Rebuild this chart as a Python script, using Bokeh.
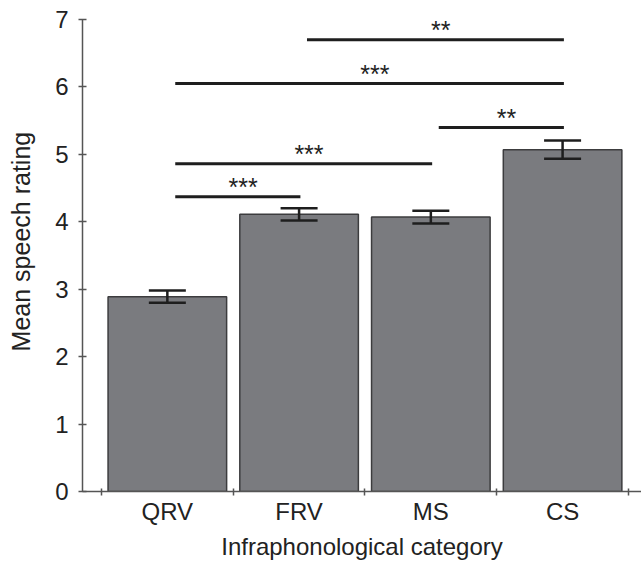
from bokeh.plotting import figure
from bokeh.models import FixedTicker, Range1d, ColumnDataSource, Whisker
from bokeh.core.properties import value
from bokeh.embed import file_html
from bokeh.resources import INLINE

# ---- data ----
categories = ["QRV", "FRV", "MS", "CS"]
means = [2.89, 4.11, 4.07, 5.07]
sem = [0.09, 0.09, 0.095, 0.135]

cmp_from = ["FRV", "QRV", "MS", "QRV", "QRV"]
cmp_to = ["CS", "CS", "CS", "MS", "FRV"]
cmp_level = [6.70, 6.05, 5.40, 4.86, 4.37]
cmp_label = ["**", "***", "**", "***", "***"]

y_ticks = [0, 1, 2, 3, 4, 5, 6, 7]

FONT = "Liberation Sans"
TXT = "#222222"

X0, X1 = -0.644, 3.599
xs = list(range(len(categories)))

p = figure(width=641, height=562, output_backend="svg", toolbar_location=None,
           x_range=Range1d(X0, X1), y_range=Range1d(0, 7),
           min_border_left=82, min_border_right=0, min_border_top=19,
           min_border_bottom=68)
p.outline_line_color = None
p.xgrid.visible = False
p.ygrid.visible = False
p.background_fill_color = "white"
p.border_fill_color = "white"

# bars
src = ColumnDataSource(dict(x=xs, top=means,
                            upper=[m + s for m, s in zip(means, sem)],
                            lower=[m - s for m, s in zip(means, sem)]))
p.vbar(x="x", top="top", bottom=0, width=0.9, source=src,
       fill_color="#7a7b7f", line_color="#3c3c3e", line_width=1.5)

# error bars
w = Whisker(base="x", upper="upper", lower="lower", source=src,
            line_color="#1e1e1e", line_width=2.5, level="overlay")
for h in (w.upper_head, w.lower_head):
    h.size = 37
    h.line_width = 2.5
    h.line_color = "#1e1e1e"
p.add_layout(w)

# significance brackets
idx = {c: i for i, c in enumerate(categories)}
x0 = [idx[a] + 0.06 for a in cmp_from]
x1 = [idx[b] + 0.01 for b in cmp_to]
p.segment(x0=x0, y0=cmp_level, x1=x1, y1=cmp_level,
          line_color="#1e1e1e", line_width=3)
p.text(x=[(a + b) / 2 + 0.04 for a, b in zip(x0, x1)],
       y=[lv + 0.14 for lv in cmp_level], text=cmp_label,
       text_font=value(FONT), text_font_size="25px", text_color=TXT,
       text_align="center", text_baseline="alphabetic")

# x axis
xa = p.xaxis[0]
xa.ticker = FixedTicker(ticks=xs, minor_ticks=[i - 0.5 for i in range(len(categories) + 1)])
xa.major_label_overrides = {i: c for i, c in enumerate(categories)}
xa.major_tick_in = 0
xa.major_tick_out = 0
xa.minor_tick_in = 3
xa.minor_tick_out = 4
xa.minor_tick_line_color = "#555555"
xa.minor_tick_line_width = 1.5
xa.axis_line_color = "#555555"
xa.axis_line_width = 1.5
xa.major_label_text_font = FONT
xa.major_label_text_font_size = "24px"
xa.major_label_text_color = TXT
xa.major_label_standoff = 2
xa.axis_label = "Infraphonological category"
xa.axis_label_text_font = FONT
xa.axis_label_text_font_size = "24px"
xa.axis_label_text_font_style = "normal"
xa.axis_label_text_color = TXT
xa.axis_label_standoff = 5

# y axis
ya = p.yaxis[0]
ya.ticker = FixedTicker(ticks=y_ticks)
ya.major_tick_in = 4
ya.major_tick_out = 4
ya.minor_tick_line_color = None
ya.major_tick_line_color = "#555555"
ya.major_tick_line_width = 1.5
ya.axis_line_color = "#555555"
ya.axis_line_width = 1.5
ya.major_label_text_font = FONT
ya.major_label_text_font_size = "24px"
ya.major_label_text_color = TXT
ya.major_label_standoff = 10
ya.axis_label = "\u00a0\u00a0\u00a0\u00a0Mean speech rating"
ya.axis_label_text_font = FONT
ya.axis_label_text_font_size = "25px"
ya.axis_label_text_font_style = "normal"
ya.axis_label_text_color = TXT
ya.axis_label_standoff = 17

open("out.html", "w").write(file_html(p, INLINE))
